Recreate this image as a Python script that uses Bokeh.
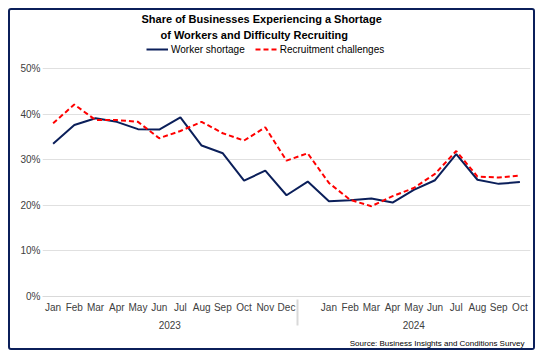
from bokeh.plotting import figure
from bokeh.models import FactorRange, Range1d, Legend, LegendItem, PrintfTickFormatter, Title, ColumnDataSource
from bokeh.embed import file_html
from bokeh.resources import INLINE

years = ["2023"] * 12 + ["2024"] * 11
months = ["Jan", "Feb", "Mar", "Apr", "May", "Jun", "Jul", "Aug", "Sep", "Oct", "Nov", "Dec",
          " ", "Jan", "Feb", "Mar", "Apr", "May", "Jun", "Jul", "Aug", "Sep", "Oct"]
worker_shortage = [33.5, 37.6, 39.1, 38.3, 36.7, 36.6, 39.3, 33.1, 31.4, 25.4, 27.6, 22.2,
                   25.2, 20.9, 21.1, 21.5, 20.6, 23.4, 25.5, 31.2, 25.6, 24.7, 25.1]
recruitment_challenges = [38.0, 42.1, 38.7, 38.7, 38.3, 34.7, 36.3, 38.3, 35.8, 34.2, 37.1, 29.8,
                          31.4, 24.9, 21.2, 19.8, 22.0, 23.8, 26.9, 31.9, 26.3, 26.1, 26.5]
y_ticks = [0, 10, 20, 30, 40, 50]
title_lines = ["Share of Businesses Experiencing a Shortage", "of Workers and Difficulty Recruiting"]

factors = list(zip(years, months))
src = ColumnDataSource(dict(x=factors, w=worker_shortage, r=recruitment_challenges))

FONT = "Liberation Sans"
NAVY = "#0b1f5a"

p = figure(x_range=FactorRange(*factors, factor_padding=0, group_padding=0, range_padding=0),
           y_range=Range1d(0, 55.7),
           width=527, height=342, output_backend="svg", toolbar_location=None,
           title=None,
           min_border_left=32, min_border_right=7, min_border_top=30, min_border_bottom=55)

p.styles = {"border": "2px solid " + NAVY, "border-radius": "3px", "margin": "8px 0px 0px 8px"}

lw = p.line("x", "w", source=src, line_color=NAVY, line_width=2)
lr = p.line("x", "r", source=src, line_color="#ff0000", line_width=2, line_dash="5 3")

legend = Legend(items=[LegendItem(label="Worker shortage", renderers=[lw]),
                       LegendItem(label="Recruitment challenges", renderers=[lr])],
                orientation="horizontal", location=(104, 241),
                label_text_font=FONT, label_text_font_size="10px", label_text_color="#000000",
                glyph_width=22, glyph_height=12, label_standoff=3, spacing=10,
                padding=2, margin=0, border_line_color=None, background_fill_alpha=0)
p.add_layout(legend, "center")

for t, off, so in reversed(list(zip(title_lines, [99, 118], [0, 4]))):
    p.add_layout(Title(text=t, align="left", offset=off, text_font=FONT, text_font_size="11px",
                       text_font_style="bold", text_color="#000000", standoff=so), "above")

p.yaxis.ticker = y_ticks
p.yaxis.formatter = PrintfTickFormatter(format="%d%%")
p.yaxis.axis_line_color = None
p.yaxis.major_tick_line_color = None
p.yaxis.major_tick_out = 0
p.yaxis.major_tick_in = 0
p.yaxis.minor_tick_line_color = None
p.yaxis.major_label_standoff = 2
p.yaxis.major_label_text_font = FONT
p.yaxis.major_label_text_font_size = "10px"
p.yaxis.major_label_text_color = "#404040"

p.xaxis.axis_line_color = "#d9d9d9"
p.xaxis.major_tick_line_color = None
p.xaxis.major_tick_out = 0
p.xaxis.major_tick_in = 0
p.xaxis.minor_tick_line_color = None
p.xaxis.major_label_standoff = 5
p.xaxis.major_label_text_font = FONT
p.xaxis.major_label_text_font_size = "10px"
p.xaxis.major_label_text_color = "#404040"
p.xaxis.group_text_font = FONT
p.xaxis.group_text_font_size = "10px"
p.xaxis.group_text_font_style = "normal"
p.xaxis.group_text_color = "#404040"
p.xaxis.separator_line_color = "#d9d9d9"

p.xgrid.grid_line_color = None
p.ygrid.grid_line_color = "#e0e0e0"
p.outline_line_color = None

p.add_layout(Title(text="Source: Business Insights and Conditions Survey", align="right", offset=6,
                   text_font=FONT, text_font_size="8px", text_font_style="normal",
                   text_color="#000000"), "below")

open("out.html", "w").write(file_html(p, INLINE))
